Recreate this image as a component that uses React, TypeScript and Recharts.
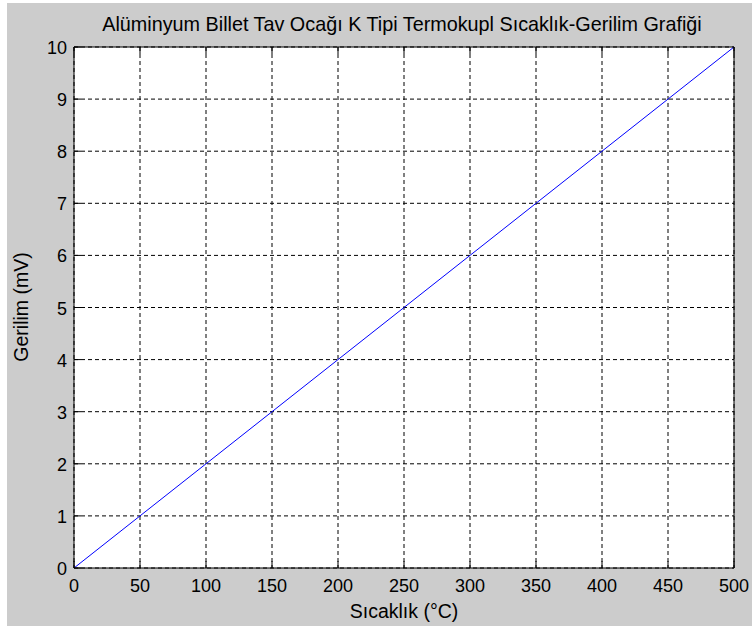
import React from "react";
import { LineChart, Line, XAxis, YAxis, CartesianGrid } from "recharts";

const temperatures = [0, 50, 100, 150, 200, 250, 300, 350, 400, 450, 500];
const voltages = [0, 1, 2, 3, 4, 5, 6, 7, 8, 9, 10];
const xTicks = [0, 50, 100, 150, 200, 250, 300, 350, 400, 450, 500];
const yTicks = [0, 1, 2, 3, 4, 5, 6, 7, 8, 9, 10];

const data = temperatures.map((t, i) => ({ t, v: voltages[i] }));

const FONT = "'Liberation Sans', Arial, sans-serif";
const TICK_LEN = 7;

const BottomTick = (props: any) => {
  const { x, y, payload } = props;
  return (
    <g>
      <line x1={x} x2={x} y1={y} y2={y - TICK_LEN} stroke="#000" strokeWidth={1} />
      <text x={x} y={y + 24} textAnchor="middle" fontSize={18} fontFamily={FONT} fill="#000">
        {payload.value}
      </text>
    </g>
  );
};

const TopTick = (props: any) => {
  const { x, y } = props;
  return <line x1={x} x2={x} y1={y} y2={y + TICK_LEN} stroke="#000" strokeWidth={1} />;
};

const LeftTick = (props: any) => {
  const { x, y, payload } = props;
  return (
    <g>
      <line x1={x} x2={x + TICK_LEN} y1={y} y2={y} stroke="#000" strokeWidth={1} />
      <text x={x - 7} y={y + 7} textAnchor="end" fontSize={18} fontFamily={FONT} fill="#000">
        {payload.value}
      </text>
    </g>
  );
};

const RightTick = (props: any) => {
  const { x, y } = props;
  return <line x1={x} x2={x - TICK_LEN} y1={y} y2={y} stroke="#000" strokeWidth={1} />;
};

export default function App() {
  return (
    <div style={{ position: "absolute", left: 0, top: 0, width: 752, height: 626, background: "#fff" }}>
      <div style={{ position: "absolute", left: 7, top: 3, width: 745, height: 623, background: "#cccccc" }} />
      <div style={{ position: "absolute", left: 0, top: 0 }}>
        <LineChart width={752} height={626} data={data} margin={{ top: 37, right: 8, bottom: 28, left: 14 }}>
          <CartesianGrid stroke="#000" strokeDasharray="4 3" fill="#ffffff" />
          <XAxis
            dataKey="t"
            type="number"
            domain={[0, 500]}
            ticks={xTicks}
            height={30}
            tickSize={0}
            tickMargin={0}
            tickLine={false}
            axisLine={{ stroke: "#000" }}
            tick={<BottomTick />}
            interval={0}
          />
          <XAxis
            xAxisId="top"
            orientation="top"
            dataKey="t"
            type="number"
            domain={[0, 500]}
            ticks={xTicks}
            height={10}
            tickSize={0}
            tickMargin={0}
            tickLine={false}
            axisLine={{ stroke: "#000" }}
            tick={<TopTick />}
            interval={0}
          />
          <YAxis
            type="number"
            domain={[0, 10]}
            ticks={yTicks}
            width={60}
            tickSize={0}
            tickMargin={0}
            tickLine={false}
            axisLine={{ stroke: "#000" }}
            tick={<LeftTick />}
            interval={0}
          />
          <YAxis
            yAxisId="right"
            orientation="right"
            type="number"
            domain={[0, 10]}
            ticks={yTicks}
            width={10}
            tickSize={0}
            tickMargin={0}
            tickLine={false}
            axisLine={{ stroke: "#000" }}
            tick={<RightTick />}
            interval={0}
          />
          <Line
            type="linear"
            dataKey="v"
            stroke="#0000ff"
            strokeWidth={1}
            dot={false}
            isAnimationActive={false}
          />
        </LineChart>
      </div>
      <svg width={752} height={626} style={{ position: "absolute", left: 0, top: 0, pointerEvents: "none" }}>
        <text x={402} y={31} textAnchor="middle" fontSize={19.8} fontFamily={FONT} fill="#000">
          Alüminyum Billet Tav Ocağı K Tipi Termokupl Sıcaklık-Gerilim Grafiği
        </text>
        <text x={404} y={618} textAnchor="middle" fontSize={19.5} fontFamily={FONT} fill="#000">
          Sıcaklık (°C)
        </text>
        <text
          x={28}
          y={307}
          textAnchor="middle"
          fontSize={19.5}
          fontFamily={FONT}
          fill="#000"
          transform="rotate(-90 28 307)"
        >
          Gerilim (mV)
        </text>
      </svg>
    </div>
  );
}
